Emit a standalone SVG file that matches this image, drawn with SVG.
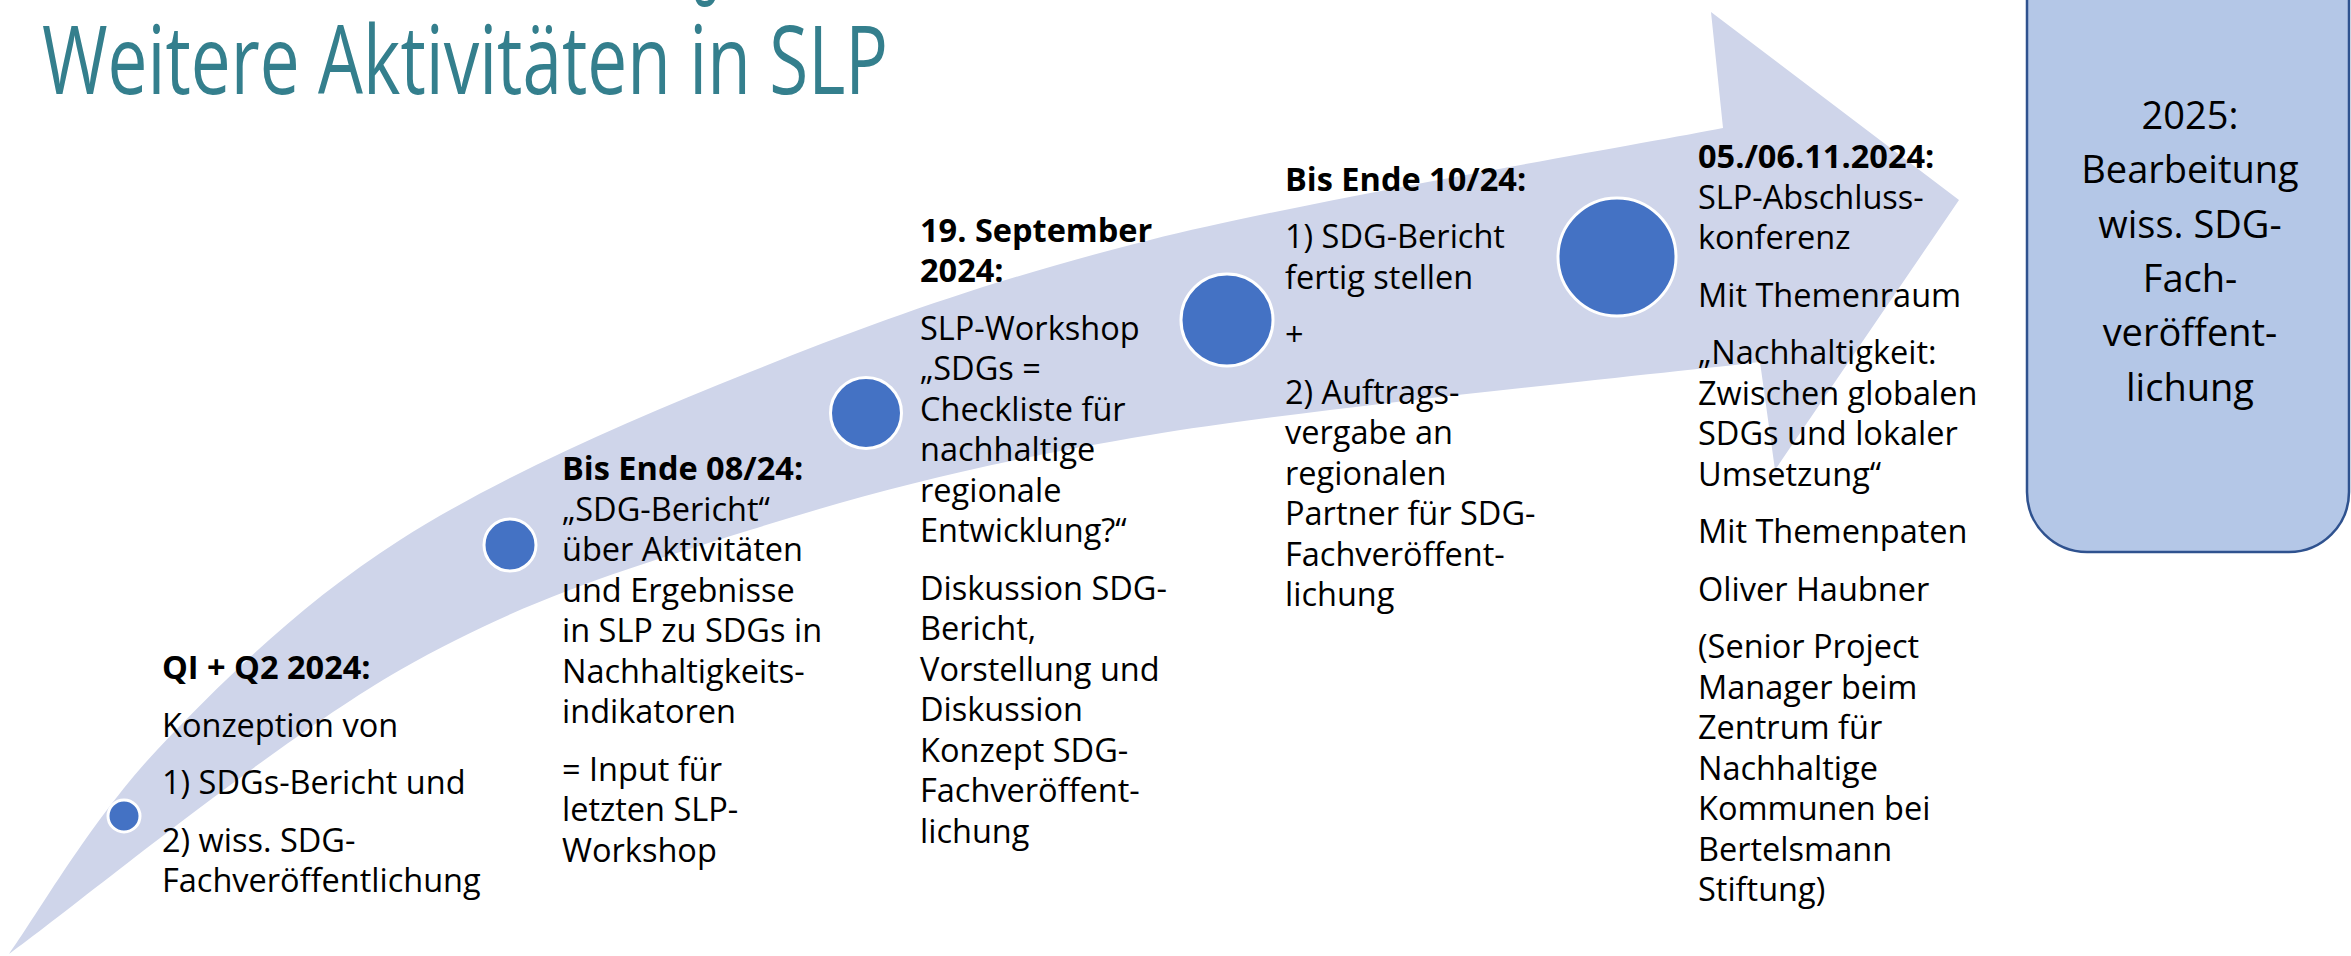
<svg xmlns="http://www.w3.org/2000/svg" width="2351" height="956" viewBox="0 0 2351 956">
  <style>
    .title { font-family: "Open Sans", "Noto Sans", "Liberation Sans", sans-serif; font-weight: 400; font-size: 96px; fill: #347F8D; }
    .t { font-family: "Open Sans", "Noto Sans", "Liberation Sans", sans-serif; font-size: 32.5px; fill: #000000; }
    .b { font-weight: 700; }
    .box-text { font-family: "Open Sans", "Noto Sans", "Liberation Sans", sans-serif; font-size: 38px; fill: #000000; text-anchor: middle; }
    .dot { fill: #4472C4; stroke: #FFFFFF; stroke-width: 3; }
    .band { fill: #CFD5EA; }
    .outlook { fill: #B4C7E7; stroke: #2F528F; stroke-width: 2.5; }
  </style>

  <rect width="2351" height="956" fill="#FFFFFF"/>

  <!-- heading (first line runs off the top edge) -->
  <g id="heading">
    <text class="title" x="694" y="-16" textLength="24" lengthAdjust="spacingAndGlyphs">g</text>
    <text class="title" x="42" y="94" textLength="846" lengthAdjust="spacingAndGlyphs">Weitere Aktivitäten in SLP</text>
  </g>

  <!-- curved timeline arrow -->
  <g id="connectors">
    <path id="timeline-arrow" class="band" d="M9,954
      C33.7,920 91.8,819 157,750
      C222.2,681 301.2,603 400,540
      C498.8,477 625,422 750,372
      C875,322 987.8,280.7 1150,240
      C1312.2,199.3 1627.5,146.7 1723,128
      L1711,12 L1959,200 L1775,470 L1760,362
      C1658.3,374.2 1318.3,407 1150,435
      C981.7,463 875,490.8 750,530
      C625,569.2 523.5,599.3 400,670
      C276.5,740.7 74.2,906.7 9,954 Z"/>
  </g>

  <!-- milestone 1 -->
  <g id="m1">
    <circle class="dot" cx="124" cy="816" r="16"/>
    <text class="t b" x="162" y="679">QI + Q2 2024:</text>
    <text class="t" x="162" y="736.5">Konzeption von</text>
    <text class="t" x="162" y="794">1) SDGs-Bericht und</text>
    <text class="t" x="162" y="851.5">2) wiss. SDG-</text>
    <text class="t" x="162" y="891.5">Fachveröffentlichung</text>
  </g>

  <!-- milestone 2 -->
  <g id="m2">
    <circle class="dot" cx="510" cy="545" r="26"/>
    <text class="t b" x="562" y="480">Bis Ende 08/24:</text>
    <text class="t" x="562" y="520.5">„SDG-Bericht“</text>
    <text class="t" x="562" y="561">über Aktivitäten</text>
    <text class="t" x="562" y="601.5">und Ergebnisse</text>
    <text class="t" x="562" y="642">in SLP zu SDGs in</text>
    <text class="t" x="562" y="682.5">Nachhaltigkeits-</text>
    <text class="t" x="562" y="723">indikatoren</text>
    <text class="t" x="562" y="780.5">= Input für</text>
    <text class="t" x="562" y="821">letzten SLP-</text>
    <text class="t" x="562" y="861.5">Workshop</text>
  </g>

  <!-- milestone 3 -->
  <g id="m3">
    <circle class="dot" cx="866" cy="413" r="35.5"/>
    <text class="t b" x="920" y="242">19. September</text>
    <text class="t b" x="920" y="282">2024:</text>
    <text class="t" x="920" y="339.5">SLP-Workshop</text>
    <text class="t" x="920" y="380">„SDGs =</text>
    <text class="t" x="920" y="420.5">Checkliste für</text>
    <text class="t" x="920" y="461">nachhaltige</text>
    <text class="t" x="920" y="501.5">regionale</text>
    <text class="t" x="920" y="542">Entwicklung?“</text>
    <text class="t" x="920" y="599.5">Diskussion SDG-</text>
    <text class="t" x="920" y="640">Bericht,</text>
    <text class="t" x="920" y="680.5">Vorstellung und</text>
    <text class="t" x="920" y="721">Diskussion</text>
    <text class="t" x="920" y="761.5">Konzept SDG-</text>
    <text class="t" x="920" y="802">Fachveröffent-</text>
    <text class="t" x="920" y="842.5">lichung</text>
  </g>

  <!-- milestone 4 -->
  <g id="m4">
    <circle class="dot" cx="1227" cy="320" r="46"/>
    <text class="t b" x="1285" y="190.5">Bis Ende 10/24:</text>
    <text class="t" x="1285" y="248">1) SDG-Bericht</text>
    <text class="t" x="1285" y="288.5">fertig stellen</text>
    <text class="t" x="1285" y="346">+</text>
    <text class="t" x="1285" y="403.5">2) Auftrags-</text>
    <text class="t" x="1285" y="444">vergabe an</text>
    <text class="t" x="1285" y="484.5">regionalen</text>
    <text class="t" x="1285" y="525">Partner für SDG-</text>
    <text class="t" x="1285" y="565.5">Fachveröffent-</text>
    <text class="t" x="1285" y="606">lichung</text>
  </g>

  <!-- milestone 5 -->
  <g id="m5">
    <circle class="dot" cx="1617" cy="257" r="59"/>
    <text class="t b" x="1698" y="168">05./06.11.2024:</text>
    <text class="t" x="1698" y="208.5">SLP-Abschluss-</text>
    <text class="t" x="1698" y="249">konferenz</text>
    <text class="t" x="1698" y="306.5">Mit Themenraum</text>
    <text class="t" x="1698" y="364">„Nachhaltigkeit:</text>
    <text class="t" x="1698" y="404.5">Zwischen globalen</text>
    <text class="t" x="1698" y="445">SDGs und lokaler</text>
    <text class="t" x="1698" y="485.5">Umsetzung“</text>
    <text class="t" x="1698" y="543">Mit Themenpaten</text>
    <text class="t" x="1698" y="600.5">Oliver Haubner</text>
    <text class="t" x="1698" y="658">(Senior Project</text>
    <text class="t" x="1698" y="698.5">Manager beim</text>
    <text class="t" x="1698" y="739">Zentrum für</text>
    <text class="t" x="1698" y="779.5">Nachhaltige</text>
    <text class="t" x="1698" y="820">Kommunen bei</text>
    <text class="t" x="1698" y="860.5">Bertelsmann</text>
    <text class="t" x="1698" y="901">Stiftung)</text>
  </g>

  <!-- outlook box, top edge runs off the canvas -->
  <g id="outlook-2025">
    <rect class="outlook" x="2027" y="-120" width="322" height="672" rx="60" ry="60"/>
    <text class="box-text" x="2190" y="129">2025:</text>
    <text class="box-text" x="2190" y="183.3">Bearbeitung</text>
    <text class="box-text" x="2190" y="237.6">wiss. SDG-</text>
    <text class="box-text" x="2190" y="291.9">Fach-</text>
    <text class="box-text" x="2190" y="346.2">veröffent-</text>
    <text class="box-text" x="2190" y="400.5">lichung</text>
  </g>
</svg>
